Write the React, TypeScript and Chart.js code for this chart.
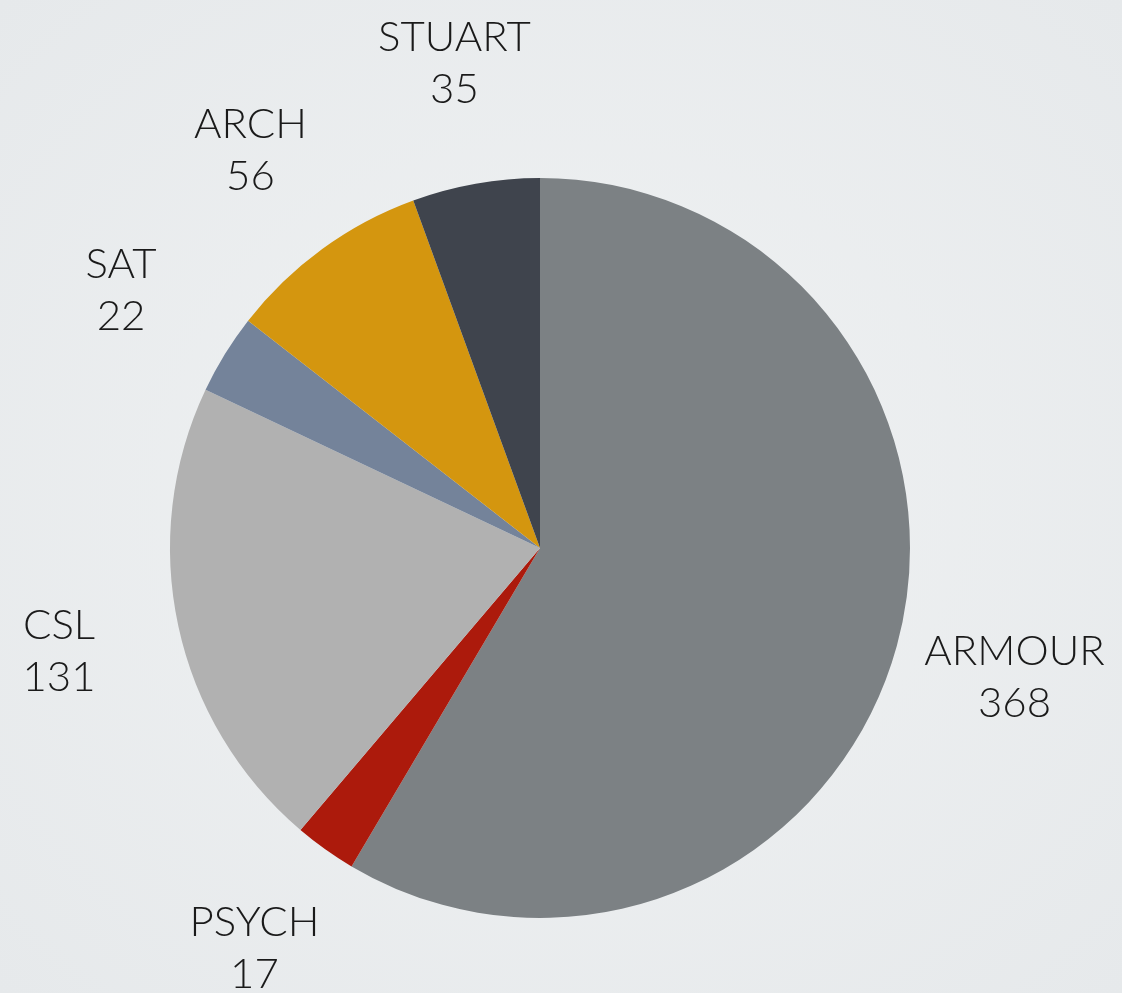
import React, { useEffect, useRef } from "react";
import { Chart, registerables } from "chart.js";

Chart.register(...registerables);

const categories = ["ARMOUR", "PSYCH", "CSL", "SAT", "ARCH", "STUART"];
const values = [368, 17, 131, 22, 56, 35];
const colors = ["#7c8184", "#ac1a0c", "#b1b1b1", "#74839a", "#d4960f", "#3f444d"];

const outsideLabels = {
  id: "outsideLabels",
  afterDatasetsDraw(chart: any) {
    const { ctx } = chart;
    const meta = chart.getDatasetMeta(0);
    ctx.save();
    ctx.fillStyle = "#1a1a1a";
    ctx.font = "300 42px Lato, 'Open Sans', sans-serif";
    ctx.textAlign = "center";
    ctx.textBaseline = "middle";
    meta.data.forEach((arc: any, i: number) => {
      const { x, y, startAngle, endAngle, outerRadius } = arc.getProps(
        ["x", "y", "startAngle", "endAngle", "outerRadius"],
        true
      );
      const mid = (startAngle + endAngle) / 2;
      const r = outerRadius + 122;
      const cx = x + Math.cos(mid) * r;
      const cy = y + Math.sin(mid) * r;
      ctx.fillText(categories[i], cx, cy - 26);
      ctx.fillText(String(values[i]), cx, cy + 26);
    });
    ctx.restore();
  },
};

export default function App() {
  const ref = useRef<HTMLCanvasElement>(null);
  useEffect(() => {
    const chart = new Chart(ref.current!, {
      type: "pie",
      data: {
        labels: categories,
        datasets: [
          {
            data: values,
            backgroundColor: colors,
            borderWidth: 0,
          },
        ],
      },
      options: {
        animation: false,
        responsive: true,
        maintainAspectRatio: false,
        layout: { padding: { left: 170, right: 212, top: 178, bottom: 75 } },
        plugins: {
          legend: { display: false },
          tooltip: { enabled: false },
        },
      },
      plugins: [outsideLabels],
    });
    return () => chart.destroy();
  }, []);
  return (
    <div
      style={{
        position: "fixed",
        left: 0,
        top: 0,
        width: 1122,
        height: 993,
        background: "radial-gradient(ellipse at center, #f0f2f3 0%, #e6e9eb 100%)",
      }}
    >
      <canvas ref={ref} />
    </div>
  );
}
